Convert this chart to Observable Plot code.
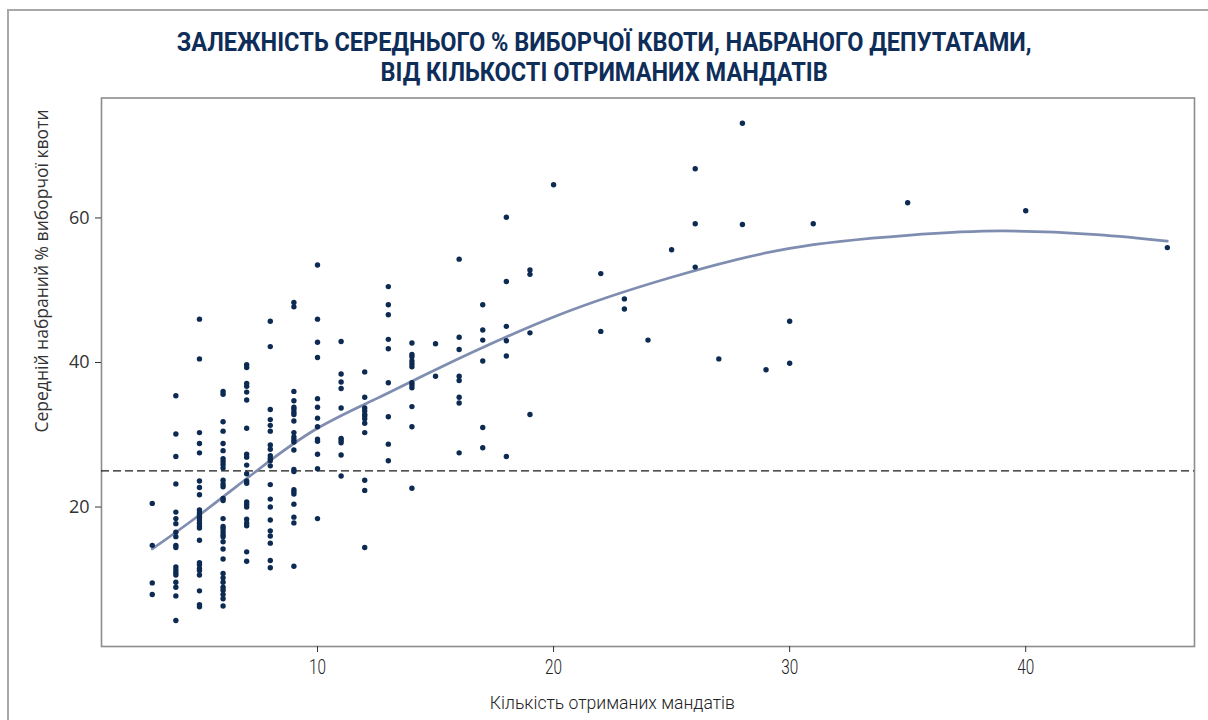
<!DOCTYPE html>
<html><head><meta charset="utf-8">
<script src="https://cdn.jsdelivr.net/npm/d3@7"></script>
<script src="https://cdn.jsdelivr.net/npm/@observablehq/plot@0.6"></script>
<style>
html,body{margin:0;padding:0;background:#fff;}
#wrap{position:relative;width:1208px;height:720px;overflow:hidden;background:#fff;}
#border{position:absolute;left:7px;top:9px;width:1220px;height:740px;border-left:2px solid #a8a8a8;border-top:2px solid #a8a8a8;}
#title{position:absolute;left:0;top:26.5px;width:1208px;text-align:center;font-family:Roboto,sans-serif;font-weight:bold;font-size:25.5px;line-height:30px;color:#0e2d58;white-space:nowrap;}
#title span{display:inline-block;transform-origin:50% 50%;}
#chart{position:absolute;left:0;top:90px;}
#ylabel{position:absolute;left:41px;top:271px;transform:translate(-50%,-50%) rotate(-90deg);white-space:nowrap;font-family:"Open Sans",sans-serif;font-size:17.5px;color:#333;}
#xlabelbox{position:absolute;left:412px;width:400px;top:690px;height:26px;text-align:center;white-space:nowrap;font-family:Roboto,sans-serif;font-weight:300;font-size:19px;line-height:26px;color:#222;}
#xlabelbox span{display:inline-block;transform-origin:50% 50%;}
#chart g[aria-label="x-axis tick label"] text{font-family:Roboto,sans-serif;font-weight:300;font-size:20px;fill:#222;}
#chart g[aria-label="y-axis tick label"] text{font-family:"Open Sans",sans-serif;font-size:18px;fill:#333;}
</style></head>
<body>
<div id="wrap">
  <div id="border"></div>
  <div id="title"><span>ЗАЛЕЖНІСТЬ СЕРЕДНЬОГО % ВИБОРЧОЇ КВОТИ, НАБРАНОГО ДЕПУТАТАМИ,<br>ВІД КІЛЬКОСТІ ОТРИМАНИХ МАНДАТІВ</span></div>
  <div id="chart"></div>
  <div id="ylabel">Середній набраний % виборчої квоти</div>
  <div id="xlabelbox"><span>Кількість отриманих мандатів</span></div>
</div>
<script>
// Number of mandates received (x categories that have points)
const mandateCounts = [3,4,5,6,7,8,9,10,11,12,13,14,15,16,17,18,19,20,22,23,24,25,26,27,28,29,30,31,35,40,46];
// Average % of electoral quota per deputy, one list per mandate count
const quotaByCount = [
  [20.5,14.7,9.5,7.9],
  [35.4,30.1,27.0,23.2,19.3,18.4,17.7,16.5,15.9,14.7,14.4,11.7,11.3,10.9,10.6,9.6,8.9,7.7,4.3],
  [46.0,40.5,30.3,28.8,27.5,23.6,22.7,21.7,19.6,19.2,18.9,18.6,18.2,17.8,17.4,17.1,15.4,12.3,12.0,11.5,11.2,10.6,8.4,6.5,6.2],
  [36.0,35.6,31.8,30.5,28.8,27.8,26.7,26.3,25.9,25.4,23.7,23.2,22.8,21.2,20.9,18.4,17.3,17.0,16.6,16.2,15.9,15.2,14.2,12.8,10.8,10.2,9.6,8.9,8.5,7.9,7.3,6.3],
  [39.7,39.3,37.1,36.7,35.9,34.8,30.9,27.3,26.9,25.8,24.6,23.6,23.3,20.7,20.4,20.0,18.3,17.8,17.4,13.8,12.5],
  [45.7,42.2,33.5,32.1,31.3,30.5,28.6,28.0,27.1,26.7,26.4,25.7,23.1,21.1,20.0,18.2,16.7,16.0,15.0,12.6,11.6],
  [48.3,47.7,36.0,34.7,33.8,33.5,33.1,32.8,31.9,30.3,29.7,29.3,29.0,27.9,25.2,24.9,22.4,22.1,21.8,20.4,18.6,17.8,11.8],
  [53.5,46.0,42.8,40.7,35.0,33.8,32.3,31.1,29.4,29.1,27.3,25.3,18.4],
  [42.9,38.4,37.3,36.4,33.7,29.5,29.2,28.9,27.2,24.3],
  [38.7,35.2,33.7,33.3,32.8,32.6,32.2,31.6,30.3,23.7,22.3,14.4],
  [50.5,48.0,46.6,43.2,41.9,37.2,32.5,28.7,26.4],
  [42.7,41.1,40.8,40.2,39.8,39.4,37.2,36.9,36.5,33.9,31.1,22.6],
  [42.6,38.1],
  [54.3,43.5,41.8,38.1,37.5,35.2,34.4,27.5],
  [48.0,44.5,43.1,40.2,31.0,28.2],
  [60.1,51.2,45.0,43.0,40.9,27.0],
  [52.8,52.2,44.1,32.8],
  [64.6],
  [52.3,44.3],
  [48.8,47.4],
  [43.1],
  [55.6],
  [66.8,59.2,53.2],
  [40.5],
  [73.1,59.1],
  [39.0],
  [45.7,39.9],
  [59.2],
  [62.1],
  [61.0],
  [55.9]
];
// Smoothed trend line
const fitMandates = [3,5,7.5,10,12.5,15,20,25,30,35,39,43,46];
const fitQuota = [14.2,18.9,25.2,30.9,35.0,39.0,46.3,51.8,55.8,57.6,58.2,57.7,56.8];
// Reference threshold (dashed)
const thresholdQuota = [25];
// Tick labels
const xTicks = [10,20,30,40];
const yTicks = [20,40,60];

const points = mandateCounts.flatMap((m, i) => quotaByCount[i].map(q => ({m, q})));
const fit = fitMandates.map((m, i) => ({m, q: fitQuota[i]}));

const chart = Plot.plot({
  width: 1208,
  height: 630,
  marginLeft: 101,
  marginRight: 14,
  marginTop: 7.5,
  marginBottom: 74,
  x: {domain: [0.85, 47.15]},
  y: {domain: [0.7, 76.6]},
  style: {background: "transparent", overflow: "visible"},
  marks: [
    Plot.frame({stroke: "#8c8c8c", strokeWidth: 1.6}),
    Plot.ruleY(thresholdQuota, {stroke: "#1a1a1a", strokeWidth: 1.2, strokeDasharray: "8,4"}),
    Plot.line(fit, {x: "m", y: "q", curve: "natural", stroke: "#7f8db0", strokeWidth: 2.7}),
    Plot.dot(points, {x: "m", y: "q", r: 2.7, fill: "#0d2a52", stroke: "none"}),
    Plot.axisX({ticks: xTicks, tickSize: 6, tickPadding: 7, label: null, color: "#333"}),
    Plot.axisY({ticks: yTicks, tickSize: 6, tickPadding: 6, label: null, color: "#333"})
  ]
});
document.getElementById("chart").appendChild(chart);

// condense x tick labels (narrow type as in the original)
chart.querySelectorAll('g[aria-label="x-axis tick label"] text').forEach(t => {
  t.setAttribute("textLength", String(8.5 * t.textContent.length));
  t.setAttribute("lengthAdjust", "spacingAndGlyphs");
});
// condense the title and x label to the original widths
function fitWidth(sel, target) {
  const s = document.querySelector(sel);
  const w = s.getBoundingClientRect().width;
  s.style.transform = `scaleX(${target / w})`;
}
fitWidth("#title span", 855);
fitWidth("#xlabelbox span", 245);
</script>
</body></html>
